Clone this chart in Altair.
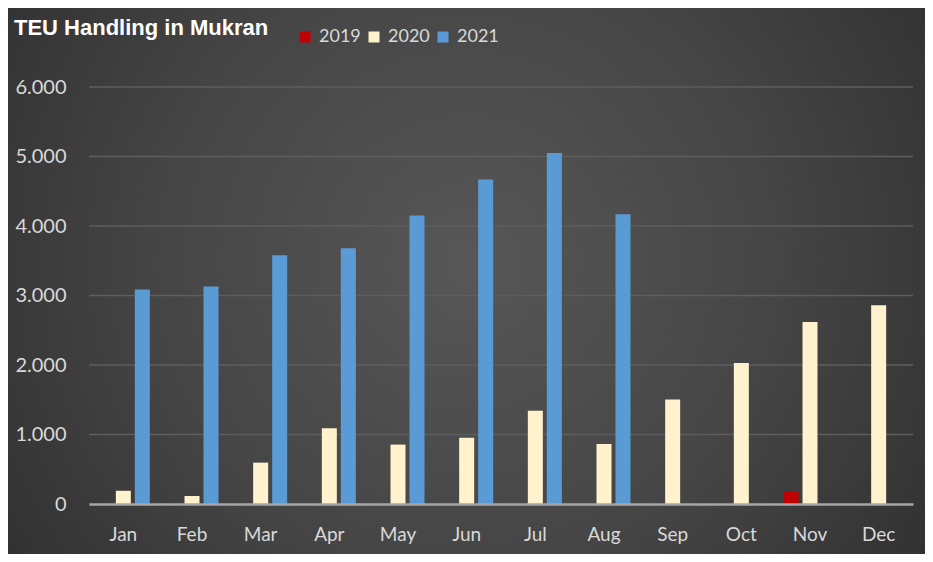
import altair as alt
import pandas as pd

months = ["Jan", "Feb", "Mar", "Apr", "May", "Jun", "Jul", "Aug", "Sep", "Oct", "Nov", "Dec"]
years = ["2019", "2020", "2021"]
teu_2019 = [None, None, None, None, None, None, None, None, None, None, 180, None]
teu_2020 = [190, 115, 595, 1090, 855, 955, 1340, 865, 1505, 2030, 2620, 2860]
teu_2021 = [3085, 3130, 3580, 3680, 4150, 4670, 5050, 4170, None, None, None, None]
y_ticks = [0, 1000, 2000, 3000, 4000, 5000, 6000]
colors = ["#C00000", "#FFF2CC", "#5B9BD5"]

rows = []
for yr, series in zip(years, [teu_2019, teu_2020, teu_2021]):
    for m, v in zip(months, series):
        if v is not None:
            rows.append({"month": m, "year": yr, "teu": v})
df = pd.DataFrame(rows)
grid_df = pd.DataFrame({"tick": y_ticks[1:]})

W, H = 824, 417
PL, PT, PR, PB = 81, 79, 12, 50
FONT = "Lato"

bg = alt.Chart(pd.DataFrame({"a": [0]})).mark_rect(
    fill=alt.Gradient(
        gradient="radial",
        x1=0.5, y1=0.48, r1=0.0,
        x2=0.5, y2=0.48, r2=0.75,
        stops=[
            alt.GradientStop(color="#575757", offset=0),
            alt.GradientStop(color="#454545", offset=0.45),
            alt.GradientStop(color="#262626", offset=1),
        ],
    ),
    clip=False,
).encode(
    x=alt.value(-PL), x2=alt.value(W + PR),
    y=alt.value(-PT), y2=alt.value(H + PB),
)

grid = alt.Chart(grid_df).mark_rule(color="#5e5e5e", strokeWidth=1.5).encode(
    y=alt.Y("tick:Q", scale=alt.Scale(domain=[0, 6000])),
)

bars = alt.Chart(df).mark_bar().encode(
    x=alt.X(
        "month:N", sort=months, title=None,
        scale=alt.Scale(paddingInner=0.228, paddingOuter=0.114),
        axis=alt.Axis(
            labelAngle=0, ticks=False, domainColor="#a6a6a6", domainWidth=2.5,
            labelColor="#d9d9d9", labelFont=FONT, labelFontSize=19,
            labelPadding=21, zindex=1, grid=False,
        ),
    ),
    xOffset=alt.XOffset("year:N", sort=years, scale=alt.Scale(domain=years, paddingInner=0.21, paddingOuter=0)),
    y=alt.Y(
        "teu:Q", title=None,
        scale=alt.Scale(domain=[0, 6000], nice=False),
        axis=alt.Axis(
            values=y_ticks, grid=False, domain=False, ticks=False,
            labelColor="#d9d9d9", labelFont=FONT, labelFontSize=20,
            labelPadding=23, zindex=1,
            labelExpr="replace(format(datum.value, ',d'), /,/g, '.')",
        ),
    ),
    color=alt.Color(
        "year:N", sort=years,
        scale=alt.Scale(domain=years, range=colors),
        legend=alt.Legend(
            title=None, orient="none", direction="horizontal",
            legendX=207, legendY=-59, symbolType="square", symbolSize=121,
            symbolStrokeWidth=0, symbolOpacity=1, labelColor="#d9d9d9",
            labelFont=FONT, labelFontSize=18, labelOffset=5, columnPadding=4,
            padding=0,
        ),
    ),
)

chart = alt.layer(bg, grid, bars).properties(
    width=W, height=H,
    autosize=alt.AutoSizeParams(type="none"),
    padding={"left": PL, "top": PT, "right": PR, "bottom": PB},
    background="#2a2a2a",
    title=alt.TitleParams(
        "TEU Handling in Mukran", anchor="start", frame="group",
        font="Liberation Sans", fontSize=22, fontWeight="bold", color="#ffffff",
        dx=-75, dy=49, offset=0, baseline="alphabetic",
    ),
).configure_view(stroke=None)

chart.save("out.html", embed_options={"renderer": "svg", "actions": False})
